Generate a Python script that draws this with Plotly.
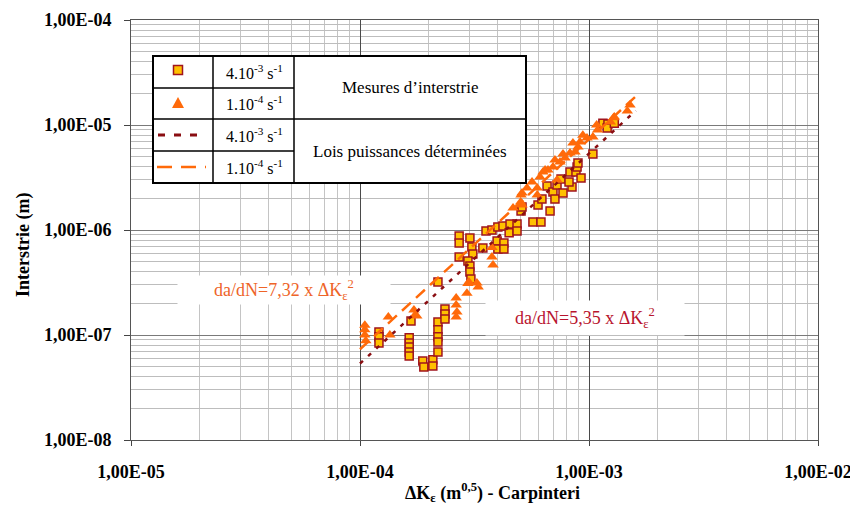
import plotly.graph_objects as go

# Mesures d'interstrie - 4.10-3 s-1 (carres)
sq_dk = [1.21e-4, 1.21e-4, 1.21e-4, 1.67e-4, 1.64e-4, 1.64e-4, 1.64e-4, 1.64e-4, 1.64e-4,
         1.88e-4, 1.90e-4, 2.08e-4, 2.08e-4, 2.19e-4, 2.19e-4, 2.19e-4, 2.19e-4, 2.19e-4,
         2.35e-4, 2.35e-4, 2.35e-4, 2.19e-4, 2.71e-4, 2.71e-4, 2.71e-4, 3.02e-4, 3.08e-4,
         3.11e-4, 2.96e-4, 3.02e-4, 3.02e-4, 3.05e-4, 3.44e-4, 3.55e-4, 3.77e-4, 4.00e-4,
         3.97e-4, 4.00e-4, 4.21e-4, 4.25e-4, 4.25e-4, 4.52e-4, 4.48e-4, 4.85e-4, 4.85e-4,
         5.05e-4, 5.10e-4, 5.69e-4, 6.17e-4, 5.99e-4, 6.23e-4, 6.76e-4, 6.56e-4, 6.96e-4,
         7.10e-4, 7.25e-4, 7.55e-4, 7.70e-4, 8.26e-4, 8.43e-4, 8.77e-4, 8.87e-4, 9.23e-4,
         8.95e-4, 8.18e-4, 1.04e-3, 1.15e-3, 1.21e-3, 1.20e-3, 1.29e-3]
sq_da = [1.07e-7, 9.6e-8, 8.4e-8, 1.36e-7, 9.4e-8, 8.4e-8, 7.7e-8, 6.9e-8, 6.3e-8,
         5.65e-8, 4.95e-8, 5.8e-8, 5.07e-8, 6.9e-8, 1.33e-7, 1.12e-7, 9.6e-8, 8.6e-8,
         1.77e-7, 1.585e-7, 1.42e-7, 3.2e-7, 8.77e-7, 7.5e-7, 5.53e-7, 8.4e-7, 6.9e-7,
         5.9e-7, 5.07e-7, 4.54e-7, 3.98e-7, 3.41e-7, 6.74e-7, 9.8e-7, 1.0e-6, 1.07e-6,
         7.86e-7, 6.6e-7, 1.09e-6, 7.5e-7, 6.6e-7, 1.14e-6, 9.4e-7, 1.14e-6, 9.8e-7,
         1.52e-6, 1.66e-6, 1.19e-6, 1.19e-6, 1.73e-6, 1.97e-6, 1.52e-6, 2.62e-6, 2.3e-6,
         1.97e-6, 2.68e-6, 3.06e-6, 2.25e-6, 3.57e-6, 2.57e-6, 3.57e-6, 3.98e-6, 3.13e-6,
         4.35e-6, 2.87e-6, 5.3e-6, 1.04e-5, 1.02e-5, 9.36e-6, 1.04e-5]

# Mesures d'interstrie - 1.10-4 s-1 (triangles)
tri_dk = [1.05e-4, 1.05e-4, 1.05e-4, 1.06e-4, 1.33e-4, 1.35e-4, 1.72e-4, 1.74e-4, 1.77e-4,
          2.63e-4, 2.63e-4, 2.65e-4, 2.63e-4, 2.93e-4, 2.96e-4, 3.77e-4, 3.81e-4, 3.77e-4,
          3.24e-4, 3.28e-4, 2.99e-4, 5.10e-4, 5.36e-4, 5.64e-4, 5.94e-4, 6.11e-4, 6.30e-4,
          6.62e-4, 6.96e-4, 7.25e-4, 7.47e-4, 7.86e-4, 8.26e-4, 8.69e-4, 8.95e-4, 9.14e-4,
          4.66e-4, 5.10e-4, 5.05e-4, 9.80e-4, 1.04e-3, 1.09e-3, 1.24e-3, 1.29e-3, 1.47e-3,
          1.51e-3, 6.43e-4, 7.10e-4, 7.70e-4, 8.51e-4, 9.40e-4, 1.08e-3, 1.28e-3, 5.03e-4,
          5.94e-4]
tri_da = [1.24e-7, 1.12e-7, 1.0e-7, 8.8e-8, 1.48e-7, 1.0e-7, 1.73e-7, 1.55e-7, 1.52e-7,
          2.25e-7, 1.93e-7, 1.66e-7, 1.48e-7, 2.5e-7, 3.1e-7, 5.53e-7, 4.64e-7, 6.8e-7,
          3.13e-7, 2.86e-7, 3.2e-7, 2.25e-6, 2.51e-6, 2.87e-6, 2.51e-6, 3.2e-6, 3.57e-6,
          3.73e-6, 3.98e-6, 2.99e-6, 4.44e-6, 4.85e-6, 5.41e-6, 5.53e-6, 6.17e-6, 6.89e-6,
          1.62e-6, 1.73e-6, 2.15e-6, 7.52e-6, 7.69e-6, 8.96e-6, 1.07e-5, 1.19e-5, 1.36e-5,
          1.55e-5, 3.73e-6, 4.64e-6, 5.3e-6, 6.74e-6, 8.0e-6, 1.0e-5, 1.17e-5, 1.85e-6,
          2.15e-6]

# Lois puissances determinees (extremites)
law_dk = [1.0e-4, 1.6e-3]
law_fast = [5.35e-8, 1.37e-5]
law_slow = [7.32e-8, 1.87e-5]

x_ticks = [1e-5, 1e-4, 1e-3, 1e-2]
x_labels = ["1,00E-05", "1,00E-04", "1,00E-03", "1,00E-02"]
y_ticks = [1e-8, 1e-7, 1e-6, 1e-5, 1e-4]
y_labels = ["1,00E-08", "1,00E-07", "1,00E-06", "1,00E-05", "1,00E-04"]

SQ_FILL = "#FFC000"
SQ_LINE = "#A0141E"
TRI = "#FF6A0A"
DARK = "#8A0E12"
SERIF = "Liberation Serif, Times New Roman, serif"

# plot area in window pixels; the page body adds an 8px margin around the figure
L, R, T, B = 131, 818, 20, 440
PAGE = 8
FIG_W, FIG_H = 858 - PAGE, 514 - 2 * PAGE


def px(x, y):
    return (x - L) / (R - L), (B - y) / (B - T)


fig = go.Figure()
fig.add_trace(go.Scatter(x=sq_dk, y=sq_da, mode="markers",
                         marker=dict(symbol="square", size=8, color=SQ_FILL,
                                     line=dict(color=SQ_LINE, width=1.5))))
fig.add_trace(go.Scatter(x=tri_dk, y=tri_da, mode="markers",
                         marker=dict(symbol="triangle-up", size=10, color=TRI,
                                     line=dict(width=0))))
fig.add_trace(go.Scatter(x=law_dk, y=law_fast, mode="lines",
                         line=dict(color=DARK, width=2.5, dash="4px,7px")))
fig.add_trace(go.Scatter(x=law_dk, y=law_slow, mode="lines",
                         line=dict(color=TRI, width=2.5, dash="12px,7px")))

minor_vals = [m * 10.0 ** e for e in range(-9, -1) for m in range(2, 10)]
tick_font = dict(family=SERIF, size=18, color="black", weight="bold")

fig.update_xaxes(type="log", range=[-5, -2], tickvals=x_ticks, ticktext=x_labels,
                 tickfont=tick_font, automargin=False, ticklabelstandoff=10,
                 showgrid=True, gridcolor="#4a4a4a", gridwidth=1,
                 ticks="outside", ticklen=5, tickcolor="#444",
                 showline=True, linecolor="#555", linewidth=1, mirror=True,
                 zeroline=False,
                 minor=dict(tickmode="array", tickvals=minor_vals, showgrid=True,
                            gridcolor="#c4c4c4", gridwidth=1, ticks=""))
fig.update_yaxes(type="log", range=[-8, -4], tickvals=y_ticks, ticktext=y_labels,
                 tickfont=tick_font, automargin=False, ticklabelstandoff=9,
                 showgrid=True, gridcolor="#7a7a7a", gridwidth=1,
                 ticks="outside", ticklen=6, tickcolor="#444",
                 showline=True, linecolor="#555", linewidth=1, mirror=True,
                 zeroline=False,
                 minor=dict(tickmode="array", tickvals=minor_vals, showgrid=True,
                            gridcolor="#bdbdbd", gridwidth=1, ticks=""))

# tableau de legende
shapes = []


def line(x0, y0, x1, y1, color="black", width=1.5, dash="solid"):
    a, b = px(x0, y0)
    c, d = px(x1, y1)
    shapes.append(dict(type="line", xref="paper", yref="paper", x0=a, y0=b, x1=c, y1=d,
                       line=dict(color=color, width=width, dash=dash), layer="above"))


a, b = px(153, 56)
c, d = px(526, 183)
shapes.append(dict(type="rect", xref="paper", yref="paper", x0=a, y0=b, x1=c, y1=d,
                   fillcolor="white", line=dict(color="black", width=2), layer="above"))
line(213, 56, 213, 183)
line(294, 56, 294, 183)
line(153, 119, 526, 119)
line(153, 88, 294, 88)
line(153, 151, 294, 151)

a, b = px(173.5, 65.5)
c, d = px(182.5, 74.5)
shapes.append(dict(type="rect", xref="paper", yref="paper", x0=a, y0=b, x1=c, y1=d,
                   fillcolor=SQ_FILL, line=dict(color=SQ_LINE, width=1.5), layer="above"))
p1, p2, p3 = px(172, 108), px(184, 108), px(178, 97)
shapes.append(dict(type="path", xref="paper", yref="paper",
                   path=f"M {p1[0]},{p1[1]} L {p2[0]},{p2[1]} L {p3[0]},{p3[1]} Z",
                   fillcolor=TRI, line=dict(color=TRI, width=0), layer="above"))
line(158, 135, 202, 135, color=DARK, width=3, dash="7px,9px")
line(157, 167, 206, 167, color=TRI, width=2.5, dash="15px,9px")

annotations = []


def text(x, y, s, size=17, color="black", **kw):
    a, b = px(x, y)
    annotations.append(dict(xref="paper", yref="paper", x=a, y=b, text=s, showarrow=False,
                            xanchor="center", yanchor="middle",
                            font=dict(family=SERIF, size=size, color=color), **kw))


text(254, 72, "4.10<sup>-3</sup> s<sup>-1</sup>", size=16)
text(254, 103, "1.10<sup>-4</sup> s<sup>-1</sup>", size=16)
text(254, 135, "4.10<sup>-3</sup> s<sup>-1</sup>", size=16)
text(254, 167, "1.10<sup>-4</sup> s<sup>-1</sup>", size=16)
text(410, 88, "Mesures d’interstrie")
text(410, 151, "Lois puissances déterminées")

text(284, 290, "da/dN=7,32 x ΔK<sub>ε</sub><sup>2</sup>", size=18, color="#EE6428",
     bgcolor="white", width=210, height=26)
text(585, 318, "da/dN=5,35 x ΔK<sub>ε</sub><sup>2</sup>", size=18, color="#B8142E",
     bgcolor="white", width=196, height=32)

text(23, 245, "<b>Interstrie (m)</b>", size=18, textangle=-90)
text(492, 492, "<b>ΔK<sub>ε</sub> (m<sup>0,5</sup>) - Carpinteri</b>", size=18)

fig.update_layout(width=FIG_W, height=FIG_H, showlegend=False,
                  margin=dict(l=L - PAGE, r=858 - R, t=T - PAGE, b=FIG_H + PAGE - B),
                  plot_bgcolor="white", paper_bgcolor="white",
                  shapes=shapes, annotations=annotations)

fig.write_html("out.html")
